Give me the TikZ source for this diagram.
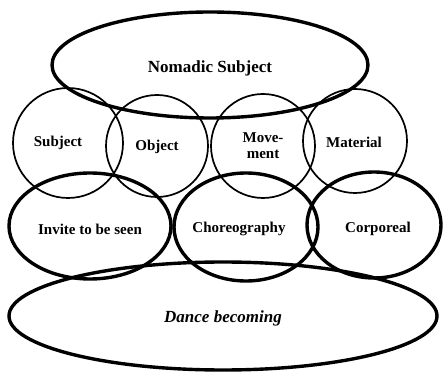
\documentclass[tikz,border=0pt]{standalone}
\usepackage{fontspec}
\setmainfont{Liberation Serif}
\usetikzlibrary{shapes.geometric}
\begin{document}
\begin{tikzpicture}[x=1pt,y=1pt,
  shp/.style={ellipse,draw=black,inner sep=0pt,outer sep=0pt},
  thickshp/.style={shp,line width=3.4pt},
  thinshp/.style={shp,line width=1.7pt},
  lbl/.style={font=\fontsize{15}{16}\selectfont\bfseries,align=center,inner sep=0pt},
  biglbl/.style={font=\fontsize{17}{18}\selectfont\bfseries,inner sep=0pt}]
\useasboundingbox (0,0) rectangle (444,372);
% top ellipse
\node[thickshp,minimum width=316pt,minimum height=106pt] (nomad) at (210,307) {};
% middle circles
\node[thinshp,minimum width=110pt,minimum height=110pt] (subj) at (68,229) {};
\node[thinshp,minimum width=102pt,minimum height=102pt] (obj) at (157,226) {};
\node[thinshp,minimum width=104pt,minimum height=104pt] (mov) at (263,226) {};
\node[thinshp,minimum width=104pt,minimum height=104pt] (mat) at (355,231) {};
% lower ellipses
\node[thickshp,minimum width=162pt,minimum height=106pt] (inv) at (90,146) {};
\node[thickshp,minimum width=144pt,minimum height=108pt] (chor) at (246,145) {};
\node[thickshp,minimum width=134pt,minimum height=106pt] (corp) at (374,147) {};
% bottom ellipse
\node[thickshp,minimum width=428pt,minimum height=108pt] (dance) at (223,56) {};
% labels
\node[biglbl] (tnomad) at (210,304) {Nomadic Subject};
\node[lbl] (tsubj) at (58,229) {Subject};
\node[lbl] (tobj) at (157,225) {Object};
\node[lbl] (tmov) at (263,226) {Move-\\ment};
\node[lbl] (tmat) at (354,230) {Material};
\node[lbl] (tinv) at (90,143) {Invite to be seen};
\node[lbl] (tchor) at (239,143) {Choreography};
\node[lbl] (tcorp) at (378,143) {Corporeal};
\node[biglbl,font=\fontsize{17}{18}\selectfont\bfseries\itshape] (tdance) at (223,54) {Dance becoming};
\end{tikzpicture}
\end{document}
